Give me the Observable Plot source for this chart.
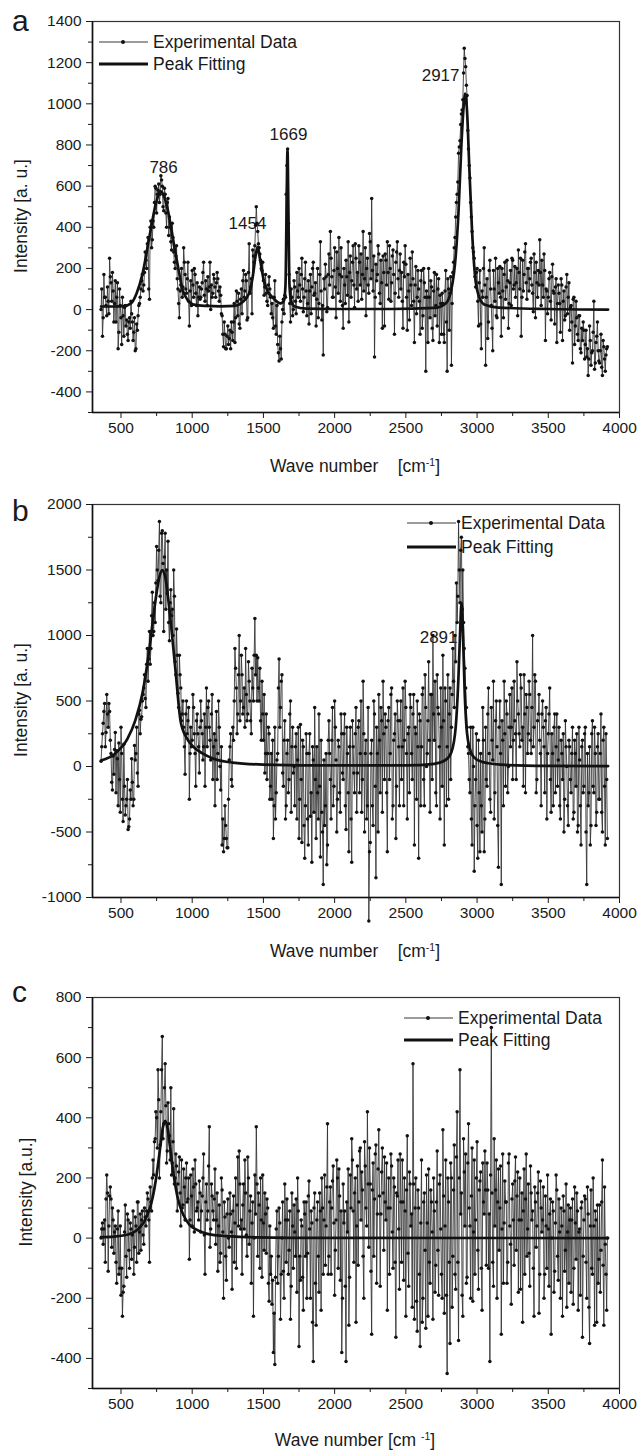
<!DOCTYPE html>
<html>
<head>
<meta charset="utf-8">
<script src="https://cdn.jsdelivr.net/npm/d3@7"></script>
<script src="https://cdn.jsdelivr.net/npm/@observablehq/plot@0.6"></script>
<style>
  html, body { margin: 0; padding: 0; background: #fff; }
  #chart { position: relative; width: 640px; height: 1451px; background: #fff;
           font-family: "Liberation Sans", Arial, Helvetica, sans-serif; color: #1a1a1a; }
  #chart svg.plot { position: absolute; left: 0; }
  .ov { position: absolute; white-space: nowrap; line-height: 1; }
  .ov sup { font-size: 0.6em; vertical-align: 0.6em; }
  .center { transform: translate(-50%, -50%); }
  .rot { transform: translate(-50%, -50%) rotate(-90deg); }
  .legend { position: absolute; font-size: 17.5px; }
  .legend .row { display: flex; align-items: center; }
  .legend svg { display: block; margin-right: 5px; }
</style>
</head>
<body>
<div id="chart"></div>
<script>
// ---------- sampling grid of the spectra (cm-1): two interleaved sample sets ----------
const waveStart = 360;
const waveStep = 10;

// ---------- panel a: experimental intensities (samples at 360, 370, ...) ----------
const intensityA = [
  0, -130, 170, 60, -30, 40, 250, 130, 180, -60,
  140, 60, -190, 100, -40, 60, -130, 20, -50, -150,
  -40, 40, -60, -110, -200, -70, -30, 30, 100, 170,
  120, 280, 200, 350, 50, 430, 340, 400, 600, 470,
  580, 520, 650, 600, 480, 560, 400, 540, 450, 330,
  420, 280, 200, 310, 100, -40, 120, 60, 300, 170,
  80, 230, -80, 140, 190, 60, 170, 20, -30, 110,
  60, 130, 230, 40, 100, 160, 110, 0, 60, 170,
  110, 130, 150, 40, 70, -30, -180, -120, -190, -80,
  -140, -190, -110, -60, -160, 90, -30, -70, 50, -20,
  190, 90, 140, -40, 320, 110, -20, 260, 310, 500,
  380, 300, 240, 190, 140, 110, 80, 20, 160, 60,
  30, -90, 140, -120, -170, -250, -190, -60, 50, 70,
  560, 780, 170, -60, 60, 0, 110, -20, 90, 200,
  40, 250, -10, 150, 90, 30, -70, 170, 110, 230,
  80, -80, 200, 30, 330, -50, -220, 100, 160, 10,
  270, 380, 160, 60, 300, -40, 200, 350, 40, 160,
  -90, 120, 240, 70, -60, 260, 140, 310, 10, 250,
  180, 310, 120, 50, 380, 150, -30, 250, 80, 330,
  540, 90, -230, 220, 170, 270, 30, 130, 260, -80,
  240, 330, 50, 200, 130, 290, -120, 230, 330, 60,
  270, 180, -90, 160, 220, -100, 90, 250, 20, 150,
  -160, 210, 60, 100, -120, 190, -30, 130, -300, 60,
  200, -40, 110, -150, 180, 20, -80, 150, 70, -120,
  30, -160, 190, -300, 100, 80, -270, 180, 300, 450,
  560, 760, 820, 950, 1020, 1270, 1180, 1040, 780, 640,
  450, 300, 250, 110, 200, -80, 190, -190, 60, 300,
  -270, 150, -60, 240, 20, -200, 100, 250, -40, 130,
  210, -130, 90, 170, 50, 240, -90, 130, 20, 240,
  120, 60, 200, 290, 100, -130, 240, 170, 320, 50,
  200, 150, 250, 80, 270, -40, 130, 190, 340, 20,
  120, 270, -150, 90, 60, 180, -50, 220, 80, 110,
  -160, 120, 30, 150, -150, 90, -30, 170, 60, -100,
  20, -260, 60, -80, -40, -150, -30, -210, -150, -100,
  -170, -230, -320, -80, -270, -200, 40, -260, -130, -200,
  -260, -120, -320, -180, -300, -190
];
// panel a: samples at 365, 375, ...
const intensityAMid = [
  100, -40, 60, 20, 110, -20, 160, 40, 90, 30,
  -60, 130, -110, 20, -170, -30, 10, -80, -120, -60,
  -90, -20, -150, -40, -190, -100, 20, 60, 140, 90,
  180, 240, 320, 100, 400, 300, 430, 520, 590, 560,
  610, 560, 630, 500, 590, 470, 520, 360, 400, 290,
  350, 230, 260, 150, 30, 90, 200, 110, 230, 100,
  150, 40, 90, 20, 120, 200, 80, 130, 60, 50,
  100, 180, 70, 140, 20, 90, 230, 120, 80, 150,
  60, 180, 90, 110, -20, -120, -60, -190, -130, -170,
  -100, -60, -150, 30, -40, 40, 80, -90, 100, 140,
  60, 170, -50, 180, 80, 150, 290, 230, 410, 420,
  320, 270, 200, 230, 70, 170, 40, 120, 100, -20,
  -40, 60, -80, 20, -210, -130, -240, 0, -20, 60,
  700, 420, 30, 100, -30, 140, 40, 180, 60, 120,
  170, 100, 60, 230, -30, 140, 90, -20, 200, 70,
  130, 50, -40, 170, 90, 20, 150, 220, -10, 170,
  120, 250, 60, 190, 110, 280, 80, 170, 300, 20,
  200, 30, 160, 330, 180, 60, 230, 120, 320, 100,
  40, 230, 270, 170, 90, 300, 200, 120, 370, 150,
  190, 260, 60, 140, 310, 80, 240, -90, 180, 270,
  120, 180, 310, 40, 260, 170, 80, 280, 150, 190,
  100, 40, 230, 310, 60, 170, -50, 120, 280, 40,
  120, -20, 190, 40, 140, -90, 200, 60, 90, -160,
  60, 140, -90, 90, -30, 170, 100, -160, 30, 80,
  -120, 90, -60, 150, -100, 160, 30, 230, 350, 520,
  620, 790, 900, 970, 1150, 1220, 1090, 870, 700, 520,
  380, 280, 160, 180, 40, 130, -70, 90, 200, 120,
  60, -140, 190, 100, -90, 190, 40, -30, 200, 80,
  60, 200, -40, 230, 110, 140, 30, 190, 250, 100,
  210, 130, -30, 180, 250, 60, 90, 280, 130, 200,
  90, 230, 120, -10, 180, 230, 60, 120, 180, 240,
  60, 190, 100, -20, 150, 40, 160, 90, -70, 150,
  30, 80, -110, 120, 40, -50, 110, -20, 130, 10,
  -60, 50, -170, 40, -120, -30, -190, -90, -60, -240,
  -100, -190, -240, -150, -210, -110, -290, -160, -60, -250,
  -200, -280, -150, -240, -220, -180
];
// panel a: peak fitting curve
const fitWaveA = [360, 450, 520, 570, 610, 650, 700, 740, 778, 800, 830, 862, 900, 932, 970, 1010, 1100, 1200, 1300, 1350, 1400, 1425, 1445, 1459, 1475, 1500, 1530, 1570, 1620, 1645, 1655, 1662, 1669, 1676, 1683, 1695, 1720, 1800, 2000, 2400, 2700, 2780, 2820, 2850, 2870, 2890, 2905, 2917, 2930, 2945, 2965, 2985, 3010, 3050, 3150, 3500, 3920];
const fitIntA = [15, 15, 17, 30, 80, 170, 355, 500, 575, 555, 480, 355, 210, 97, 45, 24, 18, 16, 18, 34, 80, 160, 260, 305, 250, 150, 90, 55, 30, 45, 120, 450, 775, 450, 120, 40, 15, 5, 3, 3, 8, 30, 100, 260, 480, 800, 980, 1050, 960, 700, 380, 170, 70, 25, 10, 3, 0];
const peakTextA = ["786", "1454", "1669", "2917"];
const peakTextWaveA = [799, 1388, 1676, 2744];
const peakTextIntA = [690, 418, 850, 1137];

// ---------- panel b ----------
const intensityB = [
  40, 250, 420, 150, 550, 300, 420, 100, -180, -60,
  260, 120, -300, -100, 300, -250, 170, -370, -250, -480,
  -400, -250, -120, -250, 50, 300, -150, 430, 360, 500,
  600, 520, 780, 650, 1030, 900, 1330, 1030, 1100, 1680,
  1420, 1870, 1250, 1800, 1030, 1780, 1500, 1720, 960, 1350,
  1200, 1500, 800, 1050, 560, 850, 600, 400, 300, -60,
  500, 350, -250, 300, 200, 450, 100, 350, 250, -50,
  500, 250, 150, -150, 600, 450, 300, 50, 550, 150,
  -300, 420, 100, 300, -180, -600, -650, -300, -550, -620,
  50, 250, -150, 200, 900, 600, 400, 1000, 500, 700,
  450, 300, 550, 400, 650, 350, 750, 500, 1130, 850,
  830, 500, 350, 650, 200, -50, 400, 100, 250, -150,
  -250, -550, 300, -200, 100, 820, 450, 700, -150, 350,
  -300, 200, -100, 500, 150, -50, -300, 250, 50, -550,
  320, -580, 150, -700, 250, -400, 100, -380, -730, 50,
  450, -550, -200, 400, -690, -350, -900, -450, 100, -600,
  350, -100, 200, -300, 500, 50, -250, 150, -350, 250,
  -100, 400, -480, 100, -650, 300, -730, 150, -200, 450,
  -50, 350, 100, -350, 650, -500, 200, -300, -1180, -580,
  200, -450, 400, -850, 100, 550, -200, 350, 650, -100,
  300, -650, 450, 100, 600, -300, 250, -550, 500, 150,
  350, -100, 600, 200, 450, -400, 300, 550, 100, 400,
  -600, 250, 500, -700, 350, 150, 600, -300, 450, 100,
  800, -350, 550, 1000, 200, -200, 700, 400, -400, 300,
  850, -600, 500, 150, -250, 600, 300, 900, 450, 800,
  1100, 1870, 1250, 1750, 1500, 900, 600, 300, 100, -200,
  -400, 300, -800, -100, -450, 200, -650, -300, 450, -650,
  300, -150, 600, -250, 450, 50, -400, 350, 150, -770,
  500, -900, 200, 650, -150, 400, 0, 550, 300, -100,
  650, 250, 800, 400, 150, 600, 300, 700, -200, 450,
  250, 550, 100, 1000, 300, 650, -100, 400, 200, -300,
  500, 150, 350, -400, 250, 600, -350, 100, 300, -200,
  400, 50, -300, 200, -100, -500, 350, 0, -450, 150,
  -200, 300, -350, 100, 250, -450, 50, -600, 200, -150,
  300, -900, -300, 150, -450, 350, -200, 100, -350, 250,
  -250, 400, -500, 300, -600, -100
];
const intensityBMid = [
  150, 330, 480, 260, 400, 480, 200, -120, 80, 130,
  -200, 60, 180, -350, 100, -420, -150, -300, -100, -460,
  -180, 60, -300, 160, 100, -50, 400, 250, 380, 550,
  700, 450, 900, 820, 780, 1150, 1000, 1250, 1400, 1500,
  1650, 1300, 1780, 1550, 1600, 1200, 1320, 1100, 1250, 1150,
  1000, 1300, 700, 850, 450, 700, 350, 500, 150, 400,
  250, 450, 100, 150, 550, 250, -150, 400, 150, 300,
  350, 50, 400, 300, 150, 500, 200, 400, -100, 250,
  200, -100, 500, 0, 150, -400, -550, -450, -620, -250,
  150, -100, 300, 500, 750, 250, 700, 350, 850, 400,
  600, 900, 350, 800, 500, 250, 600, 850, 700, 500,
  600, 750, 200, 400, 550, 100, -100, 300, -250, 100,
  200, -300, -400, 50, 600, 300, 650, -50, 200, -400,
  100, -200, 400, -350, 300, 0, 150, -400, 300, -250,
  -100, 200, -450, -300, 100, -600, 250, -200, 150, -350,
  -100, 150, -400, -150, 200, -500, 50, -300, -750, 200,
  100, -400, 450, -150, 300, -500, 200, -200, 400, -50,
  250, -300, 300, -200, 150, -400, 350, -50, 250, -350,
  300, -200, 500, -100, 250, 100, -400, 450, -650, 100,
  -300, 500, -150, 300, -500, 200, 450, -350, 250, 400,
  -200, 350, -100, 550, -400, 200, 400, -150, 350, -300,
  500, 150, -300, 650, 100, 250, -200, 450, -100, 550,
  300, -250, 150, 400, -300, 550, -100, 700, 0, 350,
  200, 550, -100, 400, 650, -300, 450, 150, 600, -150,
  350, 600, -300, 700, 400, -100, 550, 650, 1000, 1400,
  1300, 1500, 1650, 1200, 1100, 750, 450, 150, -100, 300,
  -600, 0, -300, 250, -700, -200, 100, -500, 200, -400,
  -100, 400, 100, -350, 200, 650, -200, 500, -450, 300,
  100, 350, -300, 250, 500, -200, 300, 150, 600, 200,
  350, -100, 500, 250, 700, 200, -150, 400, 550, 100,
  650, 200, 450, 150, 700, -200, 350, 550, 100, 400,
  300, -200, 450, 100, 400, -100, 250, -300, 400, 150,
  -150, 300, -400, 100, 250, -250, 150, -300, 200, -100,
  100, -400, 200, -150, -500, 300, -300, 150, -200, 250,
  -500, 100, -200, -600, 250, -150, 300, -450, 150, -250,
  100, -350, 200, -150, 250, -550
];
const fitWaveB = [360, 460, 545, 600, 650, 700, 740, 770, 790, 810, 840, 883, 918, 960, 1000, 1072, 1150, 1283, 1500, 2000, 2500, 2700, 2780, 2820, 2850, 2870, 2880, 2891, 2900, 2912, 2930, 2960, 3000, 3080, 3200, 3500, 3920];
const fitIntB = [46, 100, 210, 350, 555, 900, 1250, 1450, 1500, 1450, 1200, 730, 350, 220, 160, 100, 60, 30, 15, 8, 8, 20, 50, 110, 300, 700, 1000, 1250, 1050, 600, 250, 100, 50, 25, 12, 5, 3];
const peakTextB = ["2891"];
const peakTextWaveB = [2730];
const peakTextIntB = [985];

// ---------- panel c ----------
const intensityC = [
  0, 50, 30, -80, 210, -110, 140, 130, 100, -50,
  40, -150, 90, -100, -190, -260, -160, 110, -130, 60,
  -100, 30, 10, -120, 70, -80, 120, 20, -40, 90,
  -20, 70, 90, 130, -80, 120, 200, 210, 330, 400,
  560, 200, 420, 670, 380, 580, 250, 450, 340, 500,
  250, 430, 200, 240, 180, 270, 40, 100, 230, 60,
  250, 130, -70, 210, 40, 170, 260, 90, 120, 190,
  20, 140, 280, -120, 180, 90, 370, 30, 140, 60,
  230, 60, -110, 110, -50, 160, -200, 70, -140, 130,
  -30, 80, -170, 140, 50, -100, 270, 290, 30, -120,
  180, 260, 10, 270, -20, 140, 50, -260, 210, 370,
  -60, 110, 200, -130, 50, 150, -50, 100, -210, -120,
  -220, -380, -420, 30, -150, 100, -270, 0, -110, 180,
  -80, 60, -40, -270, 150, -100, 20, 130, 200, -360,
  -140, 40, -240, 80, 120, -50, 190, -200, 50, -410,
  150, -290, 120, -180, 90, 200, -120, 210, 40, 380,
  -60, 170, 100, 240, -190, 60, 200, 230, -140, -380,
  180, 90, -410, 20, -290, 210, 330, 90, 150, -280,
  240, 120, 300, 220, -60, 320, 100, 420, -30, 180,
  -320, 250, 130, 310, 80, 360, -160, 220, 150, 270,
  60, -240, 200, 100, 240, -100, 170, -330, 140, 30,
  280, -80, 120, 200, -260, 340, -160, 180, 80, 580,
  -270, 200, -310, 100, -360, 260, -200, 150, -300, 50,
  230, -150, 120, -270, 90, -90, 290, -190, 210, -120,
  360, -250, 260, -450, 120, -350, 200, -60, 310, -170,
  420, -340, 560, 150, -260, 220, 280, -130, 380, 40,
  140, -210, 260, 60, 320, -170, 190, -100, 250, 80,
  160, 250, -100, -410, 700, -80, 330, 160, -200, 230,
  100, -320, 280, 50, 120, -150, 250, 40, -220, 180,
  -90, 270, 140, -180, 200, 60, -280, 230, 130, -60,
  180, -160, 150, 90, -260, 120, 40, 220, -120, 100,
  60, -200, 140, -100, 30, 80, -320, 120, -180, 50,
  160, -140, 20, 100, -260, 90, -40, -230, 110, 60,
  -180, 130, -100, 50, 150, -240, 30, 100, -330, 60,
  130, -200, 80, -350, 160, -120, 40, 90, -280, -150,
  110, -40, 260, -290, -20, -240
];
const intensityCMid = [
  30, -20, 60, 130, 150, 40, 170, -30, 60, 20,
  -80, 30, -120, 40, -100, -180, 20, -60, 80, -40,
  50, -70, 90, -30, 40, 120, -50, 80, 60, 10,
  100, 40, 150, 60, 170, 90, 260, 320, 420, 300,
  460, 310, 560, 330, 500, 440, 290, 380, 260, 210,
  320, 180, 280, 90, 220, 150, 260, 110, 170, 200,
  120, 200, 60, 140, 230, 20, 180, 100, 60, 150,
  90, 200, 10, 120, 60, 240, -30, 180, 90, 130,
  -20, 150, 40, -80, 200, 20, 120, -60, 80, 0,
  150, 20, 90, -80, 200, 110, 40, 180, 60, 110,
  30, 150, -60, 200, 90, -150, 120, 0, 80, 180,
  150, -100, 60, 210, -40, 80, 130, -150, 40, -60,
  -140, -250, -130, 90, -60, 50, -120, 120, -200, 60,
  130, -120, 90, -160, 40, 110, -60, -180, 90, -60,
  60, -130, 120, -60, -200, 140, 30, 90, -280, 100,
  -150, 60, -60, 150, -240, 100, 60, -90, 170, -120,
  120, -120, 190, 50, -40, 260, -100, 140, 90, -200,
  50, -160, 120, 230, -130, 100, 260, -80, 200, 40,
  -90, 290, 60, 160, -200, 240, 40, 180, 300, -110,
  160, -60, 280, -150, 230, 140, 80, 300, -40, 120,
  250, 100, -120, 280, 20, 200, -80, 150, 260, -170,
  120, 260, -140, 90, 160, -50, 220, 40, -230, 180,
  100, -210, 160, -120, 50, -280, 120, -40, 210, -260,
  -80, 160, 20, 200, -180, 120, -40, 180, 30, -200,
  140, 40, -190, 200, -80, 250, -230, 160, -120, 270,
  -80, 200, 80, -190, 330, 40, -150, 250, 100, -200,
  300, 20, -120, 200, -40, 160, 220, -240, 120, 290,
  -90, 160, 80, 210, 150, -160, 40, 260, 120, -40,
  240, 30, -150, 190, 120, -80, 280, -20, 130, 60,
  190, -40, 220, 60, -170, 150, 90, -120, 280, 30,
  -50, 240, 60, -100, 170, -30, 150, -250, 190, 20,
  170, -120, 40, 210, -160, 130, 0, 90, -110, 210,
  -60, 130, -200, 40, 140, -110, 180, 20, -150, 100,
  60, -220, 170, -70, 90, 20, -190, 120, -60, 140,
  -80, 170, -230, 40, -100, 200, -290, 60, 110, -70,
  -180, 120, -90, 170, -120, 0
];
const fitWaveC = [360, 450, 550, 620, 680, 720, 750, 775, 795, 810, 825, 845, 870, 900, 940, 980, 1030, 1100, 1200, 1400, 1700, 3920];
const fitIntC = [3, 5, 12, 30, 70, 130, 210, 300, 370, 390, 370, 300, 210, 130, 75, 45, 28, 15, 8, 3, 1, 0];

// ---------- axes ticks ----------
const waveTicks = [500, 1000, 1500, 2000, 2500, 3000, 3500, 4000];
const waveMinorTicks = [750, 1250, 1750, 2250, 2750, 3250, 3750];
const waveDomain = [300, 4000];
const yTicksA = [-400, -200, 0, 200, 400, 600, 800, 1000, 1200, 1400];
const yMinorA = [-500, -300, -100, 100, 300, 500, 700, 900, 1100, 1300];
const yTicksB = [-1000, -500, 0, 500, 1000, 1500, 2000];
const yMinorB = [-750, -250, 250, 750, 1250, 1750];
const yTicksC = [-400, -200, 0, 200, 400, 600, 800];
const yMinorC = [-500, -300, -100, 100, 300, 500, 700];

// interleave the two sample sets in wave-number order
const toRows = (vals, mids) => vals.flatMap((v, i) => {
  const w = waveStart + i * waveStep;
  const out = [{wave: w, intensity: v}];
  if (i < mids.length) out.push({wave: w + waveStep / 2, intensity: mids[i]});
  return out;
});
const zipRows = (xs, ys) => xs.map((x, i) => ({wave: x, intensity: ys[i]}));
const zipText = (ts, xs, ys) => ts.map((t, i) => ({text: t, wave: xs[i], intensity: ys[i]}));

function panel({rows, fit, labels, yDomain, yTicks, yMinor, height, marginBottom}) {
  const fmt = d => String(d);
  return Plot.plot({
    width: 640,
    height,
    marginLeft: 92,
    marginRight: 21,
    marginTop: 21,
    marginBottom,
    style: {fontFamily: '"Liberation Sans", Arial, Helvetica, sans-serif', fontSize: "15.5px", color: "#1a1a1a"},
    x: {domain: waveDomain, label: null},
    y: {domain: yDomain, label: null},
    marks: [
      Plot.text(labels, {x: "wave", y: "intensity", text: "text", fontSize: 17, fill: "#1a1a1a"}),
      Plot.line(rows, {x: "wave", y: "intensity", stroke: "#2e2e2e", strokeWidth: 0.85}),
      Plot.dot(rows, {x: "wave", y: "intensity", r: 1.75, fill: "#111", stroke: "none"}),
      Plot.line(fit, {x: "wave", y: "intensity", stroke: "#111", strokeWidth: 2.7, curve: "monotone-x"}),
      Plot.axisX(waveTicks, {tickSize: 6, tickPadding: 3, tickFormat: fmt, fontSize: 15.5}),
      Plot.axisX(waveMinorTicks, {tickSize: 4, tickFormat: () => ""}),
      Plot.axisY(yTicks, {tickSize: 6, tickPadding: 5, tickFormat: fmt, fontSize: 15.5}),
      Plot.axisY(yMinor, {tickSize: 4, tickFormat: () => ""}),
      Plot.frame({stroke: "#333", strokeWidth: 1.2}),
      Plot.ruleX(waveDomain.slice(0, 1), {stroke: "#111", strokeWidth: 1.6}),
      Plot.ruleY(yDomain.slice(0, 1), {stroke: "#111", strokeWidth: 1.6})
    ]
  });
}

const chart = document.getElementById("chart");

const panels = [
  {top: 0, letter: "a", letterTop: 6,
   spec: {rows: toRows(intensityA, intensityAMid), fit: zipRows(fitWaveA, fitIntA), labels: zipText(peakTextA, peakTextWaveA, peakTextIntA),
          yDomain: [-500, 1400], yTicks: yTicksA, yMinor: yMinorA, height: 483, marginBottom: 71},
   ylab: "Intensity [a. u.]", ylabX: 22, ylabY: 216,
   xlab: 'Wave number &nbsp;&nbsp;&nbsp;[cm<sup>-1</sup>]', xlabY: 466,
   legend: {left: 99, top: 31, rowH: 22}},
  {top: 483, letter: "b", letterTop: 496,
   spec: {rows: toRows(intensityB, intensityBMid), fit: zipRows(fitWaveB, fitIntB), labels: zipText(peakTextB, peakTextWaveB, peakTextIntB),
          yDomain: [-1000, 2000], yTicks: yTicksB, yMinor: yMinorB, height: 485, marginBottom: 71},
   ylab: "Intensity [a. u.]", ylabX: 22, ylabY: 700,
   xlab: 'Wave number &nbsp;&nbsp;&nbsp;[cm<sup>-1</sup>]', xlabY: 951,
   legend: {left: 407, top: 511, rowH: 24}},
  {top: 976, letter: "c", letterTop: 977,
   spec: {rows: toRows(intensityC, intensityCMid), fit: zipRows(fitWaveC, fitIntC), labels: [],
          yDomain: [-500, 800], yTicks: yTicksC, yMinor: yMinorC, height: 474, marginBottom: 62},
   ylab: "Intensity [a.u.]", ylabX: 27, ylabY: 1192,
   xlab: 'Wave number [cm <sup>-1</sup>]', xlabY: 1440,
   legend: {left: 404, top: 1007, rowH: 22}}
];

function legendHTML(l) {
  return `<div class="legend" style="left:${l.left}px;top:${l.top}px">
    <div class="row" style="height:${l.rowH}px">
      <svg width="49" height="10"><line x1="0" y1="5" x2="49" y2="5" stroke="#222" stroke-width="0.9"/><circle cx="24" cy="5" r="2" fill="#111"/></svg>
      <span>Experimental Data</span></div>
    <div class="row" style="height:${l.rowH}px">
      <svg width="49" height="10"><line x1="0" y1="5" x2="49" y2="5" stroke="#111" stroke-width="3"/></svg>
      <span>Peak Fitting</span></div>
  </div>`;
}

for (const p of panels) {
  const svg = panel(p.spec);
  svg.classList.add("plot");
  svg.style.top = p.top + "px";
  svg.style.background = "transparent";
  chart.appendChild(svg);
  chart.insertAdjacentHTML("beforeend",
    `<div class="ov" style="left:12px;top:${p.letterTop}px;font-size:30px">${p.letter}</div>` +
    `<div class="ov rot" style="left:${p.ylabX}px;top:${p.ylabY}px;font-size:17.5px">${p.ylab}</div>` +
    `<div class="ov center" style="left:355px;top:${p.xlabY}px;font-size:17.5px">${p.xlab}</div>` +
    legendHTML(p.legend));
}
</script>
</body>
</html>
